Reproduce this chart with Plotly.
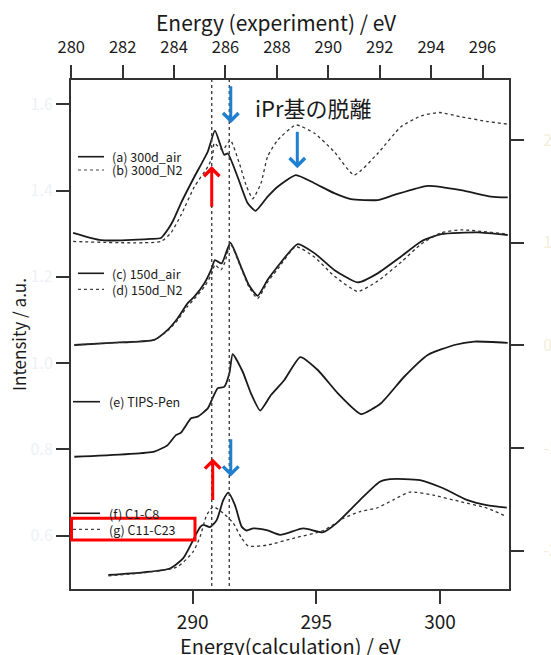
import plotly.graph_objects as go

# ---------------- data ----------------
# experimental spectra, x in Energy (experiment) / eV (top axis), y in intensity / a.u.
a_x = [280.07, 281.16, 283.10, 283.49, 283.75, 283.96, 284.27, 284.79, 285.31, 285.59, 285.95, 286.09,
       286.47, 286.86, 287.17, 287.64, 288.03, 288.74, 289.46, 290.23, 290.88, 291.92, 292.57, 293.87,
       295.16, 296.33, 296.98]
a_y = [1.302, 1.285, 1.288, 1.290, 1.309, 1.330, 1.371, 1.432, 1.490, 1.539, 1.483, 1.486,
       1.432, 1.371, 1.353, 1.386, 1.409, 1.436, 1.417, 1.394, 1.380, 1.378, 1.390, 1.411,
       1.401, 1.386, 1.384]

b_x = [280.07, 283.49, 283.88, 284.27, 284.79, 285.31, 285.50, 285.56, 285.89, 286.19, 286.54, 286.80,
       287.06, 287.38, 287.64, 288.03, 288.74, 289.46, 290.23, 291.01, 291.92, 292.83, 293.61, 294.32,
       295.16, 296.20, 296.98]
b_y = [1.282, 1.282, 1.302, 1.343, 1.409, 1.455, 1.479, 1.510, 1.494, 1.517, 1.463, 1.413,
       1.381, 1.417, 1.479, 1.517, 1.552, 1.533, 1.490, 1.436, 1.486, 1.548, 1.573, 1.581,
       1.571, 1.560, 1.554]

c_x = [280.12, 281.54, 283.23, 283.75, 284.14, 284.53, 284.79, 285.18, 285.44, 285.59, 285.85, 286.19,
       286.60, 286.91, 287.25, 287.64, 288.03, 288.81, 289.46, 290.23, 291.14, 291.92, 292.83, 293.61,
       294.39, 295.81, 296.98]
c_y = [1.042, 1.047, 1.054, 1.077, 1.104, 1.139, 1.154, 1.185, 1.216, 1.239, 1.231, 1.279,
       1.224, 1.181, 1.156, 1.193, 1.224, 1.276, 1.255, 1.216, 1.187, 1.208, 1.247, 1.282,
       1.299, 1.303, 1.297]

d_x = [280.12, 281.54, 283.23, 283.75, 284.14, 284.53, 284.79, 285.18, 285.44, 285.59, 285.82, 285.98,
       286.19, 286.60, 286.91, 287.25, 287.64, 288.03, 288.74, 289.46, 290.23, 291.14, 291.92, 292.83,
       293.61, 294.39, 295.16, 296.98]
d_y = [1.042, 1.047, 1.054, 1.075, 1.100, 1.132, 1.149, 1.177, 1.204, 1.228, 1.216, 1.234,
       1.277, 1.221, 1.177, 1.150, 1.188, 1.218, 1.270, 1.246, 1.202, 1.166, 1.190, 1.234,
       1.276, 1.302, 1.309, 1.299]

e_x = [280.12, 283.23, 283.75, 284.07, 284.27, 284.66, 284.92, 285.31, 285.50, 285.70, 285.95, 286.15,
       286.28, 286.67, 286.99, 287.35, 287.77, 288.29, 288.91, 289.59, 290.37, 291.27, 292.05, 292.96,
       293.87, 294.90, 295.68, 296.98]
e_y = [0.783, 0.795, 0.810, 0.833, 0.839, 0.872, 0.876, 0.895, 0.919, 0.942, 0.945, 0.976,
       1.021, 0.980, 0.930, 0.890, 0.926, 0.961, 1.014, 0.984, 0.930, 0.882, 0.907, 0.969,
       1.019, 1.042, 1.050, 1.047]

# calculated spectra, x in Energy(calculation) / eV (bottom axis)
f_x = [286.59, 288.00, 289.08, 289.62, 290.02, 290.30, 290.43, 290.70, 290.97, 291.24, 291.44, 291.71,
       291.98, 292.18, 292.45, 292.99, 293.53, 294.47, 295.28, 295.82, 296.77, 297.57, 297.98, 299.19,
       300.13, 301.08, 301.89, 302.70]
f_y = [0.509, 0.515, 0.524, 0.548, 0.590, 0.620, 0.625, 0.620, 0.636, 0.683, 0.700, 0.671,
       0.621, 0.612, 0.617, 0.613, 0.602, 0.617, 0.608, 0.629, 0.683, 0.725, 0.731, 0.729,
       0.710, 0.683, 0.671, 0.665]

g_x = [286.59, 289.35, 290.02, 290.30, 290.57, 290.83, 291.24, 291.64, 291.98, 292.25, 292.99, 294.07,
       295.28, 296.09, 296.77, 297.44, 298.11, 298.79, 299.73, 300.81, 301.89, 302.70]
g_y = [0.507, 0.527, 0.563, 0.598, 0.648, 0.667, 0.652, 0.629, 0.594, 0.576, 0.578, 0.594,
       0.612, 0.640, 0.656, 0.664, 0.683, 0.701, 0.694, 0.679, 0.664, 0.644]

series_names = ["(a) 300d_air", "(b) 300d_N2", "(c) 150d_air", "(d) 150d_N2",
                "(e) TIPS-Pen", "(f) C1-C8", "(g) C11-C23"]

# guide lines (calculation energy)
guide_energies = [290.77, 291.48]

# arrows: (calc energy, tail intensity, head intensity, colour)
arrows = [
    (290.77, 1.359, 1.457, "#ff0000"),
    (291.54, 1.645, 1.556, "#1f7fd0"),
    (294.23, 1.540, 1.452, "#1f7fd0"),
    (290.81, 0.679, 0.779, "#ff0000"),
    (291.54, 0.827, 0.737, "#1f7fd0"),
]

left_ticks = [0.6, 0.8, 1.0, 1.2, 1.4, 1.6]
right_ticks = [2, 1, 0, -1, -2]
top_ticks = [280, 282, 284, 286, 288, 290, 292, 294, 296]
bottom_ticks = [290, 295, 300]

# ---------------- figure ----------------
W, H = 551, 655
L, R, T, B = 71, 42, 80, 66
PW, PH = W - L - R, H - T - B


def px(xp):
    return (xp - L) / PW


def py(yp):
    return (H - B - yp) / PH


FONT = "Noto Sans CJK JP"
fig = go.Figure()

solid = dict(color="#1a1a1a", width=1.8)
dotted = dict(color="#333333", width=1.3, dash="dot")

exp_series = [(a_x, a_y, solid), (b_x, b_y, dotted), (c_x, c_y, solid), (d_x, d_y, dotted), (e_x, e_y, solid)]
for (xs, ys, ln), nm in zip(exp_series, series_names[:5]):
    fig.add_trace(go.Scatter(x=xs, y=ys, mode="lines", name=nm, line=dict(**ln, shape="spline", smoothing=0.5),
                             xaxis="x2", yaxis="y", showlegend=False))
for (xs, ys, ln), nm in zip([(f_x, f_y, solid), (g_x, g_y, dotted)], series_names[5:]):
    fig.add_trace(go.Scatter(x=xs, y=ys, mode="lines", name=nm, line=dict(**ln, shape="spline", smoothing=0.6),
                             xaxis="x", yaxis="y", showlegend=False))
# right axis carrier
fig.add_trace(go.Scatter(x=[], y=[], xaxis="x", yaxis="y2", showlegend=False, hoverinfo="skip"))

shapes = []
for e in guide_energies:
    shapes.append(dict(type="line", xref="x", yref="paper", x0=e, x1=e, y0=py(586), y1=1,
                       line=dict(color="#444444", width=1.4, dash="dot")))

# legend samples & labels
legend_rows = [
    (series_names[0], 156.7, 78, 104, 110, "solid"),
    (series_names[1], 170.0, 78, 104, 110, "dot"),
    (series_names[2], 273.3, 78, 104, 110, "solid"),
    (series_names[3], 289.3, 78, 104, 110, "dot"),
    (series_names[4], 401.7, 73, 100, 107, "solid"),
    (series_names[5], 513.3, 73, 100, 107, "solid"),
    (series_names[6], 529.3, 73, 100, 107, "dot"),
]
annotations = []
for name, yy, x0, x1, xt, dash in legend_rows:
    shapes.append(dict(type="line", xref="paper", yref="paper", x0=px(x0), x1=px(x1), y0=py(yy), y1=py(yy),
                       line=dict(color="#1a1a1a" if dash == "solid" else "#444444",
                                 width=1.6 if dash == "solid" else 1.2, dash=dash)))
    annotations.append(dict(text=name, xref="paper", yref="paper", x=px(xt), y=py(yy), xanchor="left",
                            yanchor="middle", showarrow=False, font=dict(family=FONT, size=12.5, color="#1a1a1a")))

# red box around (g)
shapes.append(dict(type="rect", xref="paper", yref="paper", x0=px(71.5), x1=px(195), y0=py(540), y1=py(518.3),
                   line=dict(color="#ff0000", width=3)))

for xe, yt, yh, col in arrows:
    annotations.append(dict(x=xe, y=yh, ax=xe, ay=yt, xref="x", yref="y", axref="x", ayref="y",
                            showarrow=True, arrowhead=4, arrowsize=1.0, arrowwidth=3, arrowcolor=col, text=""))

annotations.append(dict(text="iPr基の脱離", xref="paper", yref="paper", x=px(313.3), y=py(106.7),
                        xanchor="center", yanchor="middle", showarrow=False,
                        font=dict(family=FONT, size=22, color="#1a1a1a")))

# axis titles
annotations.append(dict(text="Energy (experiment) / eV", xref="paper", yref="paper", x=px(276), y=py(22),
                        xanchor="center", yanchor="middle", showarrow=False,
                        font=dict(family=FONT, size=21, color="#1a1a1a")))
annotations.append(dict(text="Energy(calculation) / eV", xref="paper", yref="paper", x=px(290), y=py(645),
                        xanchor="center", yanchor="middle", showarrow=False,
                        font=dict(family=FONT, size=20, color="#1a1a1a")))

axis_common = dict(showline=True, linewidth=2, linecolor="#333333", ticks="outside", ticklen=13, tickwidth=2,
                   tickcolor="#333333", showgrid=False, zeroline=False, automargin=False)

fig.update_layout(
    width=W, height=H, margin=dict(l=L, r=R, t=T, b=B, pad=0, autoexpand=False),
    paper_bgcolor="white", plot_bgcolor="white", showlegend=False,
    font=dict(family=FONT, color="#1a1a1a"),
    xaxis=dict(**axis_common, range=[285.08, 302.79], tickvals=bottom_ticks,
               tickfont=dict(family=FONT, size=19, color="#1a1a1a"), ticklabelstandoff=2),
    xaxis2=dict(**axis_common, range=[279.99, 297.03], overlaying="x", side="top", anchor="y",
                tickvals=top_ticks, tickfont=dict(family=FONT, size=16.5, color="#1a1a1a"),
                ticklabelstandoff=5),
    yaxis=dict(**axis_common, range=[0.4764, 1.6563], tickvals=left_ticks,
               ticktext=[f"{v:.1f}" for v in left_ticks],
               tickfont=dict(family=FONT, size=16, color="#eef1f7"),
               title=dict(text="Intensity / a.u.", font=dict(family=FONT, size=17), standoff=0)),
    yaxis2=dict(**axis_common, range=[-2.372, 2.584], overlaying="y", side="right", anchor="x",
                tickvals=right_ticks, ticktext=[str(v) for v in right_ticks],
                ticklabelstandoff=16,
                tickfont=dict(family=FONT, size=16, color="#f4eed8")),
    shapes=shapes, annotations=annotations,
)

fig.write_html("out.html", config={"displayModeBar": False},
               post_script="document.body.style.margin='0';document.body.style.overflow='hidden';")
